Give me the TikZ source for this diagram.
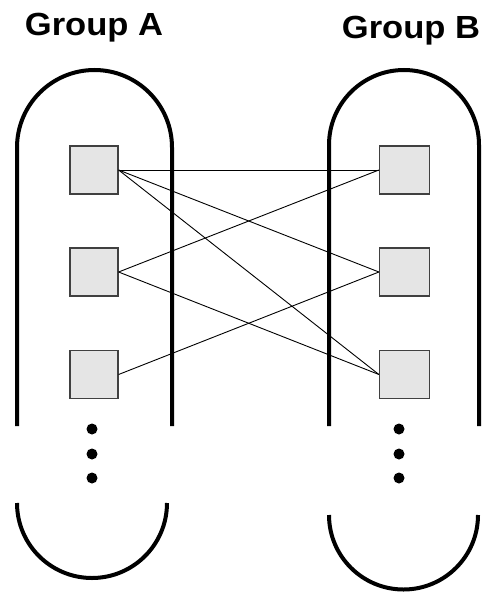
\documentclass[tikz,border=0pt]{standalone}
\usepackage{fontspec}
\setmainfont{Liberation Sans}
\begin{document}
\begin{tikzpicture}[x=1pt,y=-1pt,
  member/.style={draw=black!75,fill=black!10,line width=1.2pt,minimum width=48pt,minimum height=48pt,inner sep=0pt},
  group/.style={line width=4pt},
  link/.style={line width=0.9pt},
  dotmark/.style={circle,fill=black,inner sep=0pt,minimum size=11pt},
  title/.style={font=\fontsize{32}{38}\selectfont\bfseries,anchor=base,inner sep=0pt,xscale=1.08}]
\useasboundingbox (0,0) rectangle (482,594);
% titles
\node[title] (ta) at (94,36) {Group A};
\node[title] (tb) at (411,38) {Group B};
% group outlines
\draw[group] (17,426) -- (17,147.5) arc[start angle=180,end angle=360,radius=77.5] -- (172,426);
\draw[group] (329,426) -- (329,145) arc[start angle=180,end angle=360,radius=75] -- (479,426);
\draw[group] (17,503) arc[start angle=180,end angle=0,radius=75];
\draw[group] (329,515) arc[start angle=180,end angle=0,radius=74.5];
% members
\node[member] (a1) at (94,170) {};
\node[member] (a2) at (94,272) {};
\node[member] (a3) at (94,374.5) {};
\node[member,minimum width=50pt] (b1) at (404.5,170) {};
\node[member,minimum width=50pt] (b2) at (404.5,272) {};
\node[member,minimum width=50pt] (b3) at (404.5,374.5) {};
% dots
\node[dotmark] (da1) at (92,429) {};
\node[dotmark] (da2) at (92,454) {};
\node[dotmark] (da3) at (92,478) {};
\node[dotmark] (db1) at (399,429) {};
\node[dotmark] (db2) at (399,454) {};
\node[dotmark] (db3) at (399,478) {};
% links
\draw[link] (a1.east) -- (b1.west);
\draw[link] (a1.east) -- (b2.west);
\draw[link] (a1.east) -- (b3.west);
\draw[link] (a2.east) -- (b1.west);
\draw[link] (a2.east) -- (b3.west);
\draw[link] (a3.east) -- (b2.west);
\end{tikzpicture}
\end{document}
